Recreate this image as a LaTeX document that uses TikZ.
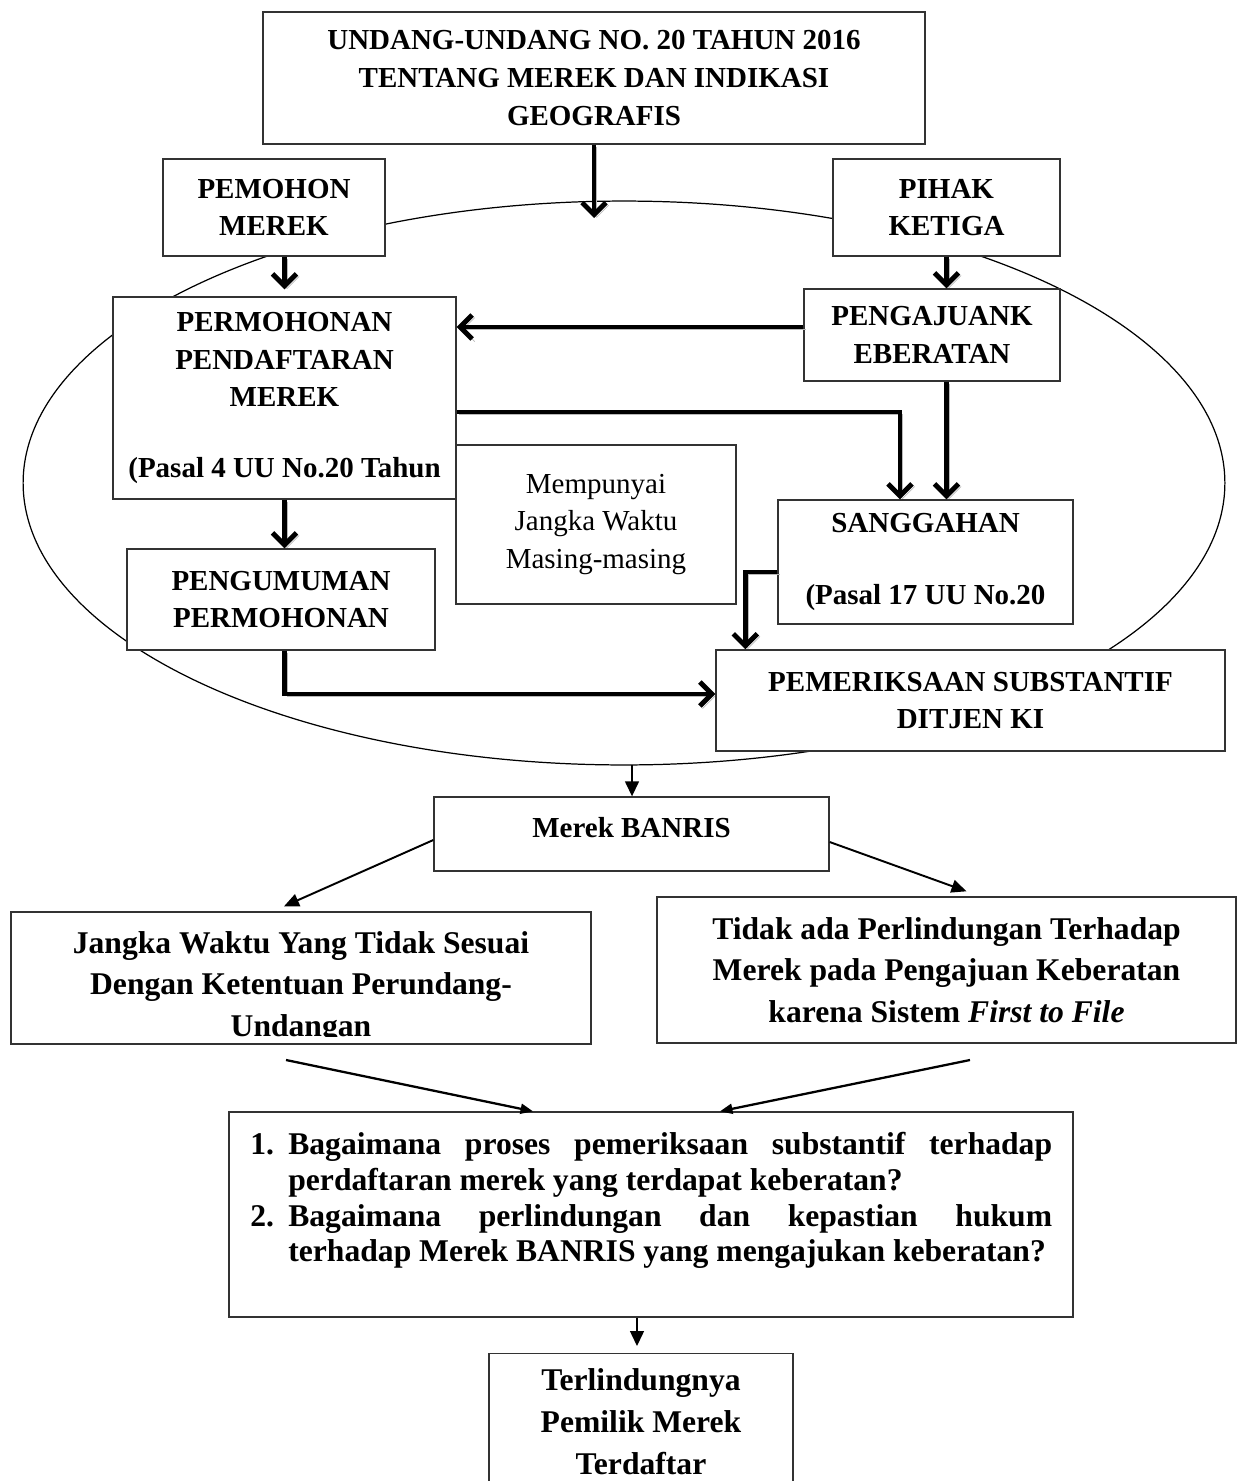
\documentclass[tikz,border=0pt]{standalone}
\usepackage{fontspec}
\setmainfont{Liberation Serif}
\usetikzlibrary{arrows.meta,positioning,calc}

\begin{document}
\begin{tikzpicture}[
    x=0.02cm, y=-0.02cm,
    box/.style={draw=black!80, line width=0.8pt, fill=white, align=center, inner sep=0pt, font=\bfseries\fontsize{16.5}{21.5}\selectfont},
    plainbox/.style={box, font=\fontsize{16.5}{21.5}\selectfont},
    bigbox/.style={box, font=\bfseries\fontsize{18}{23.6}\selectfont},
    bigtext/.style={align=center, inner sep=0pt, font=\bfseries\fontsize{18}{23.6}\selectfont},
    qtext/.style={inner sep=0pt, font=\bfseries\fontsize{18}{20.4}\selectfont},
    bigarrow/.style={-{Straight Barb[length=0.24cm, width=0.48cm]}, line width=2.8pt, black,
        preaction={draw=gray!55, transform canvas={xshift=1.5pt, yshift=-1.5pt}}},
    thinarrow/.style={-{Triangle[length=0.3cm, width=0.28cm]}, line width=0.8pt},
    midarrow/.style={-{Triangle[length=0.3cm, width=0.26cm]}, line width=1.1pt},
    linkarrow/.style={-{Triangle[length=0.25cm, width=0.2cm]}, line width=1.3pt}
]
\useasboundingbox (0,0) rectangle (1237,1481);

% === Ellipse round the registration process ===
\draw[line width=0.7pt] (624,483) ellipse [x radius=12.02cm, y radius=5.64cm];

% === Upper boxes ===
\node[box, minimum width=13.24cm, minimum height=2.64cm] (law) at (594,78) {UNDANG-UNDANG NO. 20 TAHUN 2016\\TENTANG MEREK DAN INDIKASI\\GEOGRAFIS};
\node[box, minimum width=4.44cm, minimum height=1.94cm] (pemohon) at (274,207.5) {PEMOHON\\MEREK};
\node[box, minimum width=4.54cm, minimum height=1.94cm] (pihak) at (946.5,207.5) {PIHAK\\KETIGA};
\node[box, minimum width=6.86cm, minimum height=4.04cm] (permohonan) at (284.5,398) {PERMOHONAN\\PENDAFTARAN\\MEREK\\[0.66cm](Pasal 4 UU No.20 Tahun};
\node[box, minimum width=5.12cm, minimum height=1.84cm] (pengajuan) at (932,335) {PENGAJUANK\\EBERATAN};
\node[plainbox, minimum width=5.6cm, minimum height=3.18cm] (waktu) at (596,524.5) {Mempunyai\\Jangka Waktu\\Masing-masing};
\node[box, minimum width=5.9cm, minimum height=2.48cm] (sanggahan) at (925.5,562) {SANGGAHAN\\[0.68cm](Pasal 17 UU No.20};
\node[box, minimum width=6.16cm, minimum height=2.02cm] (pengumuman) at (281,599.5) {PENGUMUMAN\\PERMOHONAN};
\node[box, minimum width=10.18cm, minimum height=2.02cm] (pemeriksaan) at (970.5,700.5) {PEMERIKSAAN SUBSTANTIF\\DITJEN KI};

% === Thick arrows inside the ellipse ===
\coordinate (lawtip) at (594,218);
\draw[bigarrow] (law.south) -- (law.south |- lawtip);
\draw[bigarrow, shorten >=0.14cm] (pemohon.south -| permohonan.north) -- (permohonan.north);
\draw[bigarrow] (pihak.south) -- (pihak.south |- pengajuan.north);
\coordinate (objstart) at ([yshift=0.16cm]pengajuan.west);
\draw[bigarrow] (objstart) -- (objstart -| permohonan.east);
\coordinate (regstart) at ([yshift=-0.28cm]permohonan.east);
\draw[bigarrow] (regstart) -| ([xshift=-0.51cm]sanggahan.north);
\draw[bigarrow] (pihak.south |- pengajuan.south) -- (pihak.south |- sanggahan.north);
\draw[bigarrow] ([yshift=-0.2cm]sanggahan.west) -| ([xshift=0.6cm]pemeriksaan.north west);
\draw[bigarrow] (permohonan.south) -- (permohonan.south |- pengumuman.north);
\coordinate (annstart) at (pengumuman.south -| permohonan.south);
\draw[bigarrow] (annstart) |- ([yshift=0.13cm]pemeriksaan.west);

% === Lower boxes ===
\node[box, minimum width=7.9cm, minimum height=1.48cm, text depth=8pt] (banris) at (631.5,834) {Merek BANRIS};
\node[bigbox, minimum width=11.6cm, minimum height=2.64cm] (jangkabox) at (301,978) {};
\begin{scope}
    \clip (11,912) rectangle (591,1036);
    \node[bigtext, anchor=north] (jangkatext) at (301,931) {Jangka Waktu Yang Tidak Sesuai\\Dengan Ketentuan Perundang-\\Undangan};
\end{scope}
\node[bigbox, minimum width=11.58cm, minimum height=2.92cm] (perlbox) at (946.5,970) {Tidak ada Perlindungan Terhadap\\Merek pada Pengajuan Keberatan\\karena Sistem \textit{First to File}};

\node[box, minimum width=16.88cm, minimum height=4.1cm] (qbox) at (651,1214.5) {};
\node[qtext, anchor=north west] (questions) at (250,1129) {\hyphenpenalty=10000
    \begin{tabular}{@{}p{0.76cm}@{}p{15.28cm}@{}}
    1. & Bagaimana proses pemeriksaan substantif terhadap\linebreak perdaftaran merek yang terdapat keberatan?\\
    2. & Bagaimana perlindungan dan kepastian hukum\linebreak terhadap Merek BANRIS yang mengajukan keberatan?
    \end{tabular}};

\node[box, anchor=north, minimum width=6.08cm, minimum height=3cm] (final) at (641,1353) {};
\node[bigtext, anchor=north, font=\bfseries\fontsize{18}{24}\selectfont] (finaltext) at (641,1368) {Terlindungnya\\Pemilik Merek\\Terdaftar};

% === Thin arrows ===
\coordinate (ellbot) at (632,765);
\draw[thinarrow] (ellbot) -- (ellbot |- banris.north);
\draw[midarrow] ([yshift=-0.12cm]banris.west) -- ([xshift=-0.34cm,yshift=0.1cm]jangkabox.north);
\draw[midarrow] ([yshift=-0.16cm]banris.east) -- ([xshift=0.4cm,yshift=0.1cm]perlbox.north);

\coordinate (leftfoot) at (286,1060);
\coordinate (rightfoot) at (970,1060);
\draw[linkarrow] (leftfoot) -- ([xshift=-2.36cm]qbox.north);
\draw[linkarrow] (rightfoot) -- ([xshift=1.38cm]qbox.north);

\coordinate (qfoot) at ([xshift=-0.28cm]qbox.south);
\draw[thinarrow, shorten >=0.14cm] (qfoot) -- (qfoot |- final.north);

\end{tikzpicture}
\end{document}
